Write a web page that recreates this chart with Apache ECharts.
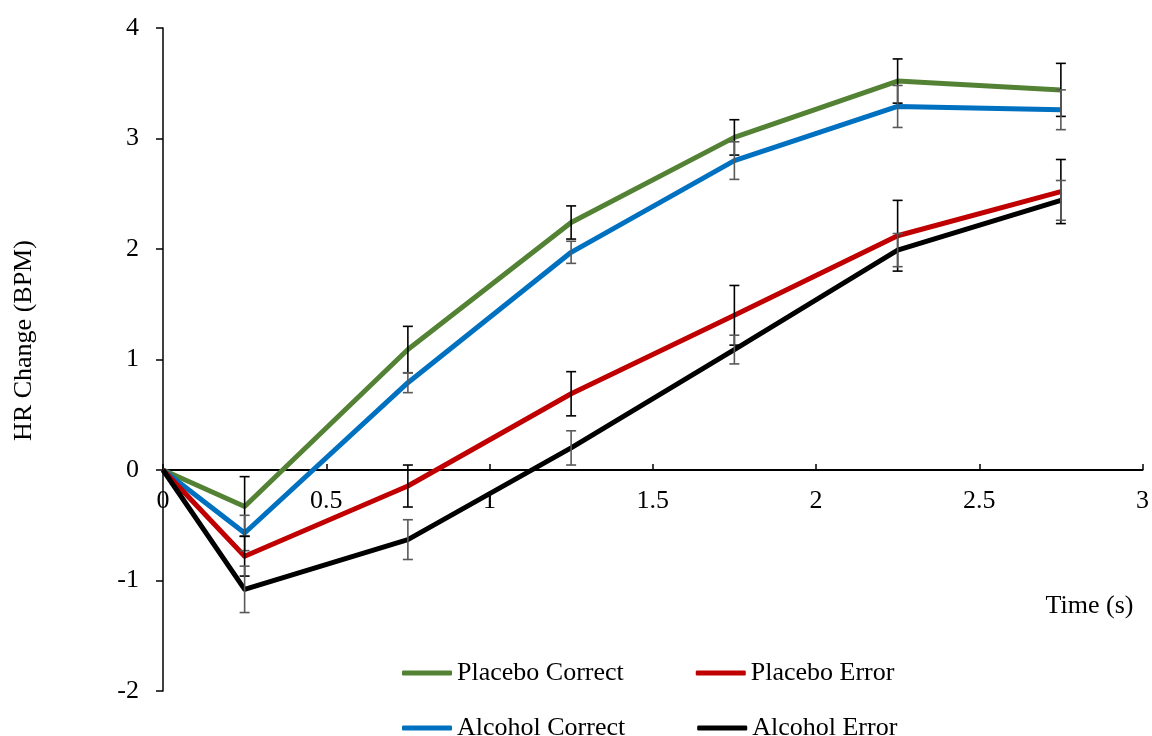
<!DOCTYPE html>
<html>
<head>
<meta charset="utf-8">
<script src="https://cdn.jsdelivr.net/npm/echarts@6/dist/echarts.min.js"></script>
<style>
  html, body { margin: 0; padding: 0; background: #ffffff; }
  #chart { width: 1152px; height: 736px; }
</style>
</head>
<body>
<div id="chart"></div>
<script>
// Time points (s)
const times = [0, 0.25, 0.75, 1.25, 1.75, 2.25, 2.75];

// Mean HR change (BPM) per condition
const placeboCorrect = [0, -0.33, 1.09, 2.24, 3.01, 3.52, 3.44];
const alcoholCorrect = [0, -0.57, 0.79, 1.97, 2.80, 3.29, 3.26];
const placeboError   = [0, -0.78, -0.145, 0.69, 1.40, 2.12, 2.52];
const alcoholError   = [0, -1.08, -0.63, 0.20, 1.09, 1.99, 2.44];

// Standard errors (BPM)
const placeboCorrectErr = [0, 0.27, 0.21, 0.15, 0.16, 0.20, 0.24];
const alcoholCorrectErr = [0, 0.16, 0.09, 0.10, 0.17, 0.19, 0.18];
const placeboErrorErr   = [0, 0.18, 0.19, 0.20, 0.27, 0.32, 0.29];
const alcoholErrorErr   = [0, 0.21, 0.18, 0.155, 0.13, 0.15, 0.18];

const FONT = '"Liberation Serif", "Times New Roman", serif';
const FS = 26;

function pairs(ys) { return times.map((t, i) => [t, ys[i]]); }
function errTriples(ys, es) {
  return times.map((t, i) => [t, ys[i], es[i]]).filter(d => d[2] > 0);
}

function lineSeries(name, ys, color) {
  return {
    name: name, type: 'line', data: pairs(ys),
    showSymbol: false, symbol: 'none',
    lineStyle: { color: color, width: 5, join: 'round' },
    itemStyle: { color: color },
    z: 3, animation: false
  };
}

function errorSeries(ys, es, color) {
  return {
    type: 'custom', data: errTriples(ys, es), silent: true, z: 4,
    encode: { x: 0, y: 1 },
    animation: false,
    renderItem: function (params, api) {
      const x = api.value(0), y = api.value(1), e = api.value(2);
      const hi = api.coord([x, y + e]);
      const lo = api.coord([x, y - e]);
      const cap = 5;
      const style = { stroke: color, lineWidth: 1.6, fill: null };
      return {
        type: 'group',
        children: [
          { type: 'line', shape: { x1: hi[0], y1: hi[1], x2: lo[0], y2: lo[1] }, style: style },
          { type: 'line', shape: { x1: hi[0] - cap, y1: hi[1], x2: hi[0] + cap, y2: hi[1] }, style: style },
          { type: 'line', shape: { x1: lo[0] - cap, y1: lo[1], x2: lo[0] + cap, y2: lo[1] }, style: style }
        ]
      };
    }
  };
}

const legendCommon = {
  left: 397, itemWidth: 50, itemHeight: 5, itemGap: 72,
  icon: 'roundRect',
  textStyle: { fontFamily: FONT, fontSize: FS, color: '#000' }
};

// The horizontal axis sits on y = 0: shift it up from the grid bottom
// by the pixel distance between y = -2 and y = 0.
const GRID_TOP = 28, GRID_BOTTOM = 45, Y_MIN = -2, Y_MAX = 4;
const plotH = 736 - GRID_TOP - GRID_BOTTOM;
const xAxisOffset = -plotH * (0 - Y_MIN) / (Y_MAX - Y_MIN);

const chart = echarts.init(document.getElementById('chart'), null, { renderer: 'canvas' });
chart.setOption({
  backgroundColor: '#ffffff',
  animation: false,
  grid: { left: 163, right: 9, top: GRID_TOP, bottom: GRID_BOTTOM, containLabel: false },
  legend: [
    Object.assign({ top: 655, data: ['Placebo Correct', 'Placebo Error'] }, legendCommon),
    Object.assign({ top: 710, data: ['Alcohol Correct', 'Alcohol Error'] }, legendCommon)
  ],
  xAxis: {
    type: 'value', min: 0, max: 3, interval: 0.5,
    offset: xAxisOffset,
    name: 'Time (s)', nameLocation: 'end', nameGap: -53,
    nameTextStyle: { fontFamily: FONT, fontSize: FS, color: '#000',
      align: 'center', verticalAlign: 'top', padding: [123, 0, 0, 0] },
    axisLine: { onZero: false, lineStyle: { color: '#000', width: 2 } },
    axisTick: { show: true, inside: true, length: 6, lineStyle: { color: '#000', width: 1.5 } },
    axisLabel: { fontFamily: FONT, fontSize: FS, color: '#000', margin: 18 },
    splitLine: { show: false }
  },
  yAxis: {
    type: 'value', min: Y_MIN, max: Y_MAX, interval: 1,
    name: 'HR Change (BPM)', nameLocation: 'middle', nameGap: 126,
    nameTextStyle: { fontFamily: FONT, fontSize: FS, color: '#000', padding: [0, 0, 0, 38] },
    axisLine: { show: true, lineStyle: { color: '#000', width: 1.5 } },
    axisTick: { show: true, inside: false, length: 7, lineStyle: { color: '#000', width: 1.5 } },
    axisLabel: { fontFamily: FONT, fontSize: FS, color: '#000', margin: 24 },
    splitLine: { show: false }
  },
  series: [
    lineSeries('Placebo Correct', placeboCorrect, '#548235'),
    lineSeries('Alcohol Correct', alcoholCorrect, '#0070C0'),
    lineSeries('Placebo Error', placeboError, '#C00000'),
    lineSeries('Alcohol Error', alcoholError, '#000000'),
    errorSeries(placeboCorrect, placeboCorrectErr, '#000000'),
    errorSeries(alcoholCorrect, alcoholCorrectErr, '#595959'),
    errorSeries(placeboError, placeboErrorErr, '#000000'),
    errorSeries(alcoholError, alcoholErrorErr, '#595959')
  ]
});
</script>
</body>
</html>
